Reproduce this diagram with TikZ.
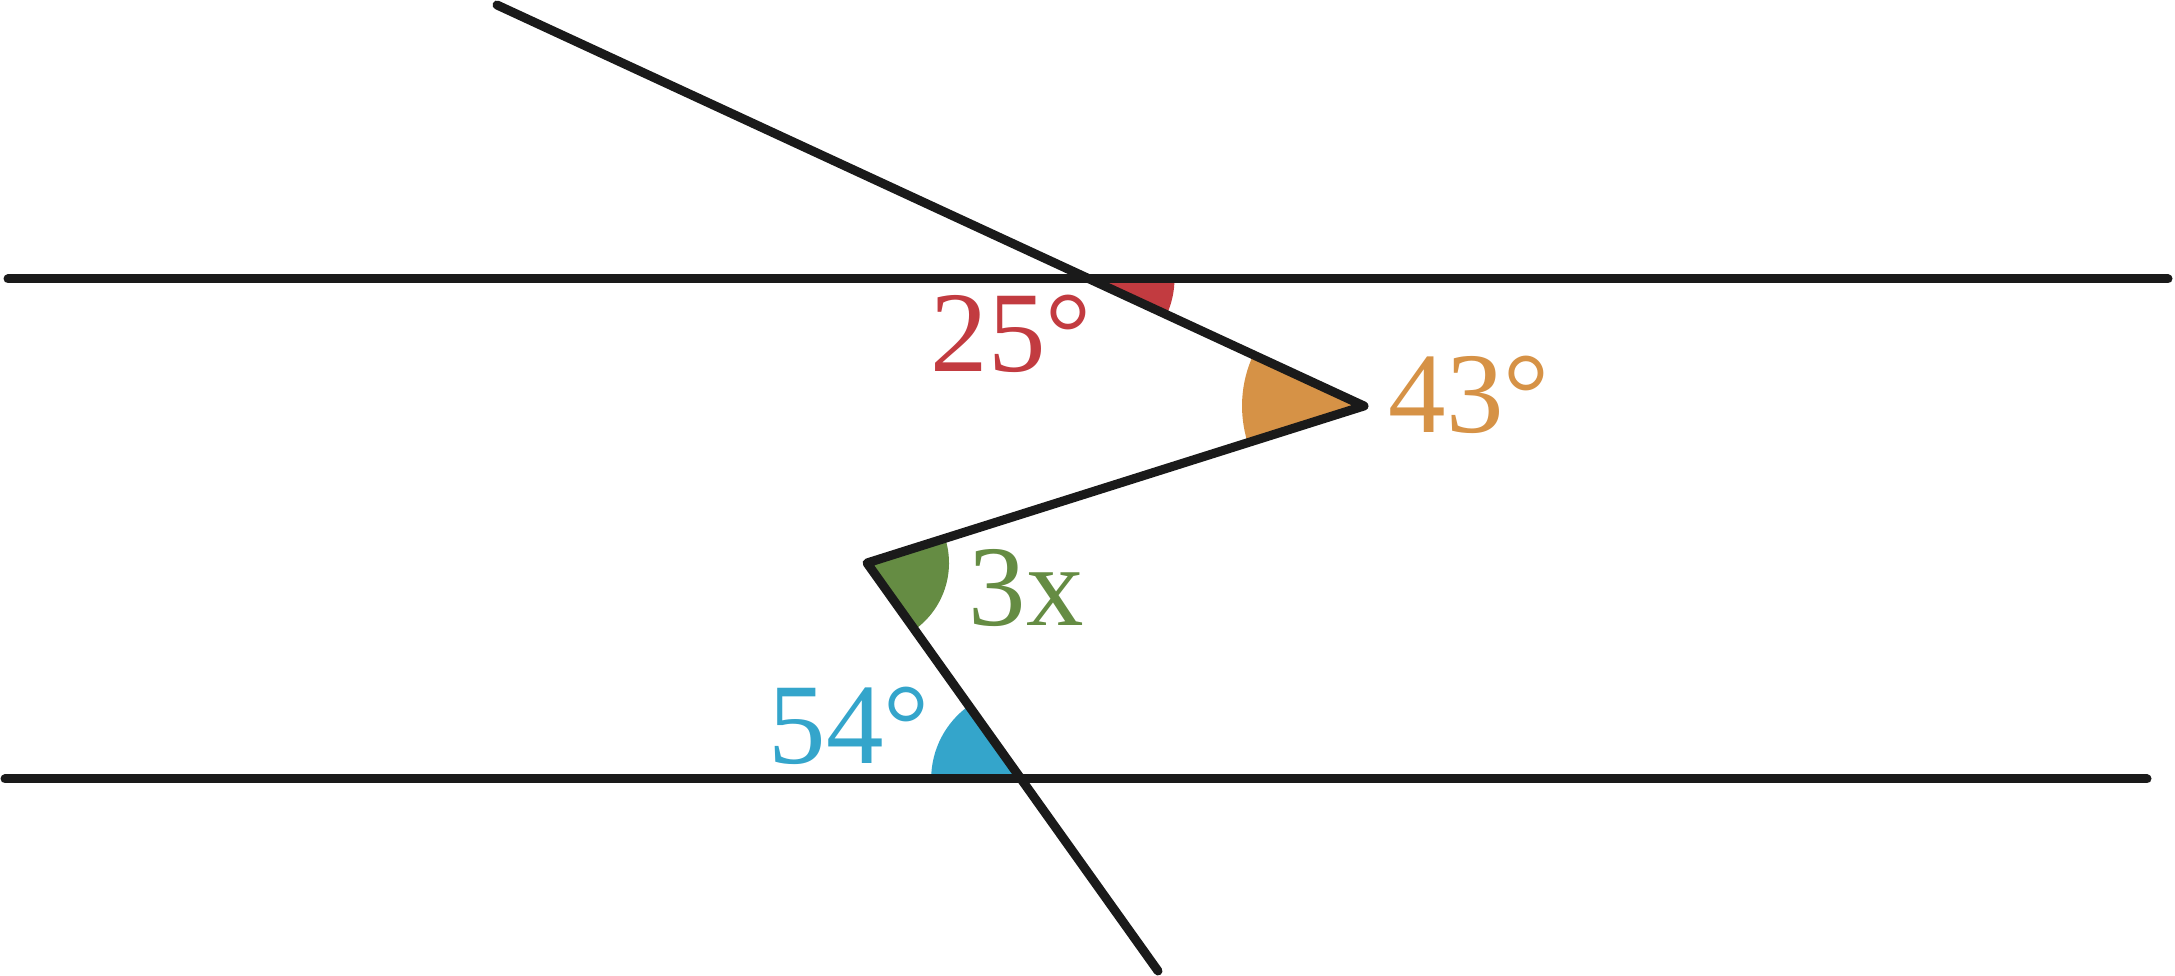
\documentclass[tikz,border=0pt]{standalone}
\usepackage{fontspec}
\setmainfont{Liberation Serif}
\definecolor{angred}{HTML}{C23B40}
\definecolor{angorange}{HTML}{D69246}
\definecolor{anggreen}{HTML}{658C43}
\definecolor{angblue}{HTML}{34A5CB}
\definecolor{inkline}{HTML}{1A1A1A}
\begin{document}
\begin{tikzpicture}[x=0.1mm, y=0.1mm,
  edge/.style={draw=inkline, line width=0.9mm, line cap=round, line join=round},
  ang/.style={inner sep=0pt, anchor=base west, font=\fontsize{32.7}{39}\selectfont}]
  \useasboundingbox (0,0) rectangle (2175,976);

  % the two parallel lines and the zigzag
  \coordinate (tl) at (8,697);   \coordinate (tr) at (2168,697);
  \coordinate (bl) at (5,197);   \coordinate (br) at (2147,197);
  \coordinate (A) at (497,971);
  \coordinate (R) at (1364,570);
  \coordinate (L) at (867,413);
  \coordinate (E) at (1158,5);
  \coordinate (T) at (intersection of A--R and tl--tr);
  \coordinate (B) at (intersection of L--E and bl--br);

  % angle marks
  \fill[angred] (T) -- ++(0:85) arc[start angle=0, end angle=-24.8, radius=85] -- cycle;
  \fill[angorange] (R) -- ++(155.2:122) arc[start angle=155.2, end angle=197.5, radius=122] -- cycle;
  \fill[anggreen] (L) -- ++(-54.5:82) arc[start angle=-54.5, end angle=17.5, radius=82] -- cycle;
  \fill[angblue] (B) -- ++(125.1:90) arc[start angle=125.1, end angle=180, radius=90] -- cycle;

  \draw[edge] (tl) -- (tr);
  \draw[edge] (bl) -- (br);
  \draw[edge] (A) -- (R) -- (L) -- (E);

  \node[ang, text=angred] (a25) at (930,604) {25°};
  \node[ang, text=angorange] (a43) at (1388,543) {43°};
  \node[ang, text=anggreen] (a3x) at (968,350) {3x};
  \node[ang, text=angblue] (a54) at (768,212) {54°};
\end{tikzpicture}
\end{document}
